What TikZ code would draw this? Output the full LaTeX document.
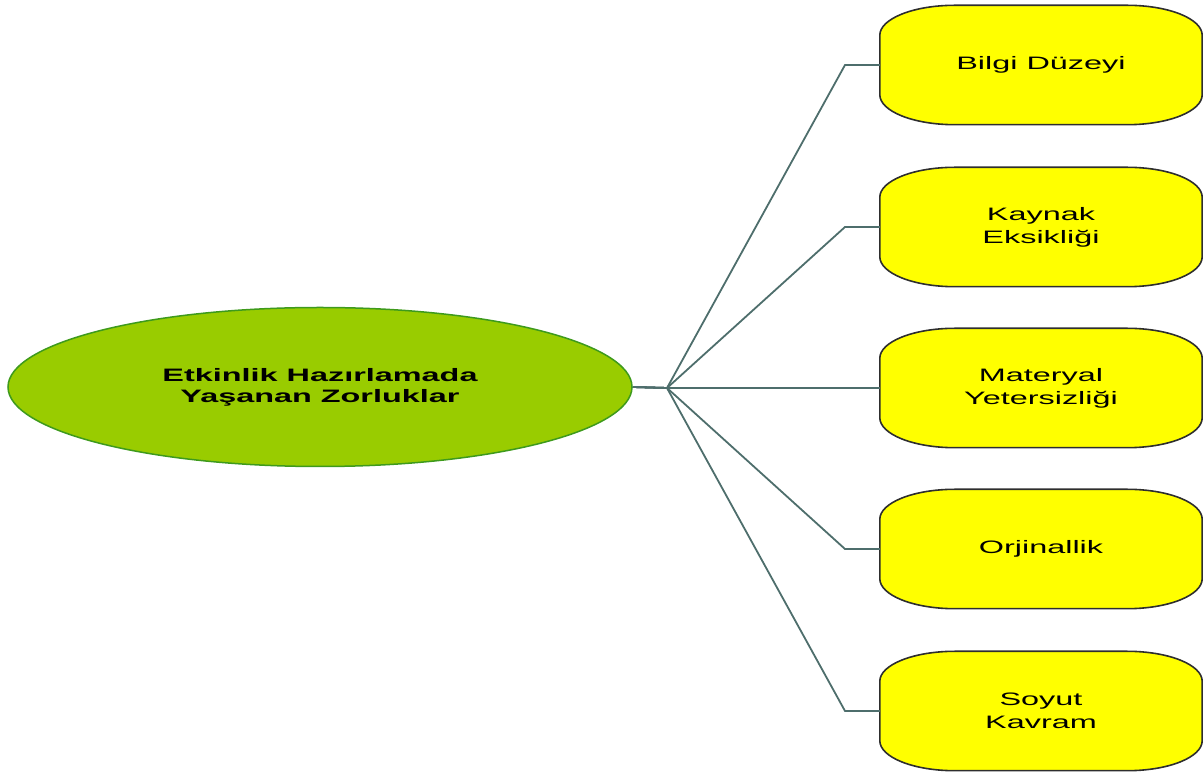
\documentclass[tikz,border=0pt]{standalone}
\usepackage{fontspec}
\setmainfont{Liberation Sans}
\newfontfamily\widefont[FakeStretch=1.8]{Liberation Sans}
\usetikzlibrary{shapes.geometric,backgrounds}
\definecolor{rootfill}{HTML}{99CC00}
\definecolor{rootedge}{HTML}{3E9A1C}
\definecolor{leaffill}{HTML}{FFFF00}
\definecolor{leafedge}{HTML}{2E2E2E}
\definecolor{linkcol}{HTML}{4E6E6C}
\begin{document}
\begin{tikzpicture}[x=1pt,y=1pt,
  topic/.style={ellipse, draw=rootedge, line width=1.5pt, fill=rootfill,
    minimum width=624pt, minimum height=159pt, inner sep=0pt, align=center,
    font=\widefont\fontsize{18}{21}\selectfont\bfseries},
  leaf/.style={rectangle, minimum width=322pt, minimum height=119pt,
    inner sep=0pt, align=center, font=\widefont\fontsize{18}{23}\selectfont},
  leafshape/.style={draw=leafedge, fill=leaffill, line width=1.6pt},
  link/.style={draw=linkcol, line width=1.8pt, line join=miter},
]
\useasboundingbox (0,0) rectangle (1203,774);

% central topic
\node[topic] (root) at (320,387) {Etkinlik Hazırlamada\\Yaşanan Zorluklar};

% branches
\node[leaf] (b1) at (1041,709) {Bilgi Düzeyi};
\node[leaf] (b2) at (1041,547) {Kaynak\\Eksikliği};
\node[leaf] (b3) at (1041,386) {Materyal\\Yetersizliği};
\node[leaf] (b4) at (1041,225) {Orjinallik};
\node[leaf] (b5) at (1041,63)  {Soyut\\Kavram};

% branching point and elbows
\coordinate (hub) at (667,386);
\coordinate (e1) at (845,709);
\coordinate (e2) at (845,547);
\coordinate (e4) at (845,225);
\coordinate (e5) at (845,63);

\begin{scope}[on background layer]
  \foreach \n in {b1,b2,b3,b4,b5}
    \path[leafshape]
      ([yshift=-30pt]\n.north west)
        arc[start angle=180, end angle=90, x radius=75pt, y radius=30pt]
      -- ([xshift=-75pt]\n.north east)
        arc[start angle=90, end angle=0, x radius=75pt, y radius=30pt]
      -- ([yshift=30pt]\n.south east)
        arc[start angle=0, end angle=-90, x radius=75pt, y radius=30pt]
      -- ([xshift=75pt]\n.south west)
        arc[start angle=270, end angle=180, x radius=75pt, y radius=30pt]
      -- cycle;
  \draw[link] (root.east) -- (hub) -- (e1) -- (b1.west);
  \draw[link] (root.east) -- (hub) -- (e2) -- (b2.west);
  \draw[link] (root.east) -- (hub) -- (b3.west);
  \draw[link] (root.east) -- (hub) -- (e4) -- (b4.west);
  \draw[link] (root.east) -- (hub) -- (e5) -- (b5.west);
\end{scope}
\end{tikzpicture}
\end{document}
